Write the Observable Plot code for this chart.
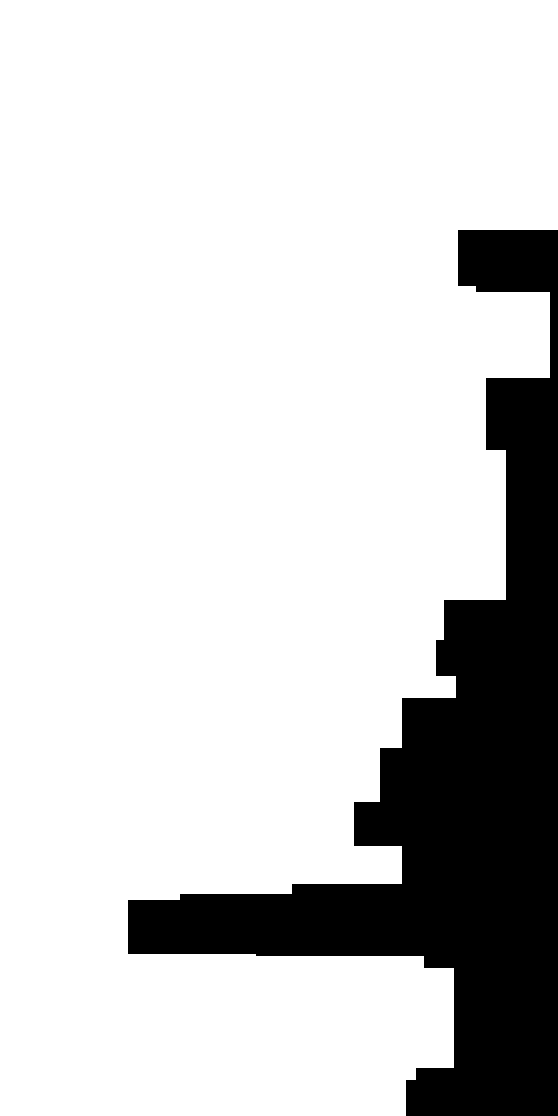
<!DOCTYPE html>
<html>
<head>
<meta charset="utf-8">
<script src="https://cdn.jsdelivr.net/npm/d3@7"></script>
<script src="https://cdn.jsdelivr.net/npm/@observablehq/plot@0.6"></script>
<style>
  html, body { margin: 0; padding: 0; background: #fff; overflow: hidden; }
  svg { display: block; }
</style>
</head>
<body>
<div id="chart"></div>
<script>
// Band edges along the vertical axis (start / end of each step)
const bandStart = [115, 143, 146, 189, 225, 300, 320, 338, 349, 374, 401, 423, 442, 447, 450, 477, 478, 484, 534, 540];
const bandEnd   = [143, 146, 189, 225, 300, 320, 338, 349, 374, 401, 423, 442, 447, 450, 477, 478, 484, 534, 540, 558];
// Value of each step (length measured from the right edge)
const values    = [50, 41, 4, 36, 26, 57, 61, 51, 78, 89, 102, 78, 133, 189, 215, 151, 67, 52, 71, 76];

const data = values.map((v, i) => ({y1: bandStart[i], y2: bandEnd[i], value: v}));

const chart = Plot.plot({
  width: 558,
  height: 1116,
  margin: 0,
  style: {background: "#fff"},
  x: {domain: [0, 279], reverse: true, axis: null},
  y: {domain: [0, 558], reverse: true, axis: null},
  marks: [
    Plot.rectX(data, {x1: 0, x2: "value", y1: "y1", y2: "y2", fill: "#000", shapeRendering: "crispEdges"})
  ]
});
document.getElementById("chart").append(chart);
</script>
</body>
</html>
